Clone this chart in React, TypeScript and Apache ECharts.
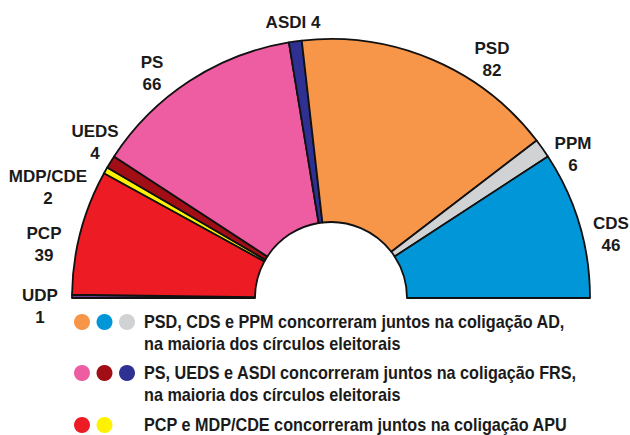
import React, { useEffect, useRef } from "react";
import * as echarts from "echarts";

const parties = ["UDP", "PCP", "MDP/CDE", "UEDS", "PS", "ASDI", "PSD", "PPM", "CDS"];
const seats = [1, 39, 2, 4, 66, 4, 82, 6, 46];
const colors = ["#6B4091", "#ED1C24", "#FFF200", "#A10E16", "#EE5DA1", "#2E3192", "#F79548", "#D1D2D4", "#0096D8"];

const legendGroups = [
  { parties: ["PSD", "CDS", "PPM"], lines: ["PSD, CDS e PPM concorreram juntos na coligação AD,", "na maioria dos círculos eleitorais"] },
  { parties: ["PS", "UEDS", "ASDI"], lines: ["PS, UEDS e ASDI concorreram juntos na coligação FRS,", "na maioria dos círculos eleitorais"] },
  { parties: ["PCP", "MDP/CDE"], lines: ["PCP e MDP/CDE concorreram juntos na coligação APU"] },
];

// label centres (layout only)
const labelPos: Record<string, [number, number]> = {
  UDP: [40, 306],
  PCP: [44, 244],
  "MDP/CDE": [48, 187],
  UEDS: [95, 142],
  PS: [152, 73],
  ASDI: [293, 22],
  PSD: [492, 59],
  PPM: [573, 154],
  CDS: [611, 234],
};

const FONT = '"Liberation Sans Narrow", "Arial Narrow", "Liberation Sans", sans-serif';

export default function App() {
  const ref = useRef<HTMLDivElement>(null);
  useEffect(() => {
    document.body.style.margin = "0";
    const chart = echarts.init(ref.current!, null, { renderer: "svg" });
    const total = seats.reduce((a, b) => a + b, 0);
    const data: any[] = parties.map((p, i) => ({
      name: p,
      value: seats[i],
      itemStyle: { color: colors[i] },
    }));
    data.push({
      name: "__hidden",
      value: total,
      itemStyle: { color: "rgba(0,0,0,0)", borderWidth: 0 },
      label: { show: false },
      labelLine: { show: false },
      emphasis: { disabled: true },
      tooltip: { show: false },
    });

    const graphic: any[] = [];
    const rowY = [322, 373, 425];
    legendGroups.forEach((g, gi) => {
      g.parties.forEach((p, pi) => {
        graphic.push({
          type: "circle",
          shape: { cx: 82 + pi * 22.5, cy: rowY[gi], r: 8 },
          style: { fill: colors[parties.indexOf(p)] },
        });
      });
      g.lines.forEach((line, li) => {
        graphic.push({
          type: "text",
          x: 144,
          y: rowY[gi] + li * 22,
          scaleX: 0.9,
          style: {
            text: line,
            font: `bold 18px ${FONT}`,
            fill: "#1a1a1a",
            textAlign: "left",
            textVerticalAlign: "middle",
          },
        });
      });
    });

    chart.setOption({
      animation: false,
      graphic,
      series: [
        {
          type: "pie",
          center: [331, 298],
          radius: [76, 259],
          startAngle: 180,
          clockwise: true,
          avoidLabelOverlap: false,
          silent: true,
          itemStyle: { borderColor: "#111", borderWidth: 1.8 },
          label: {
            show: true,
            position: "outside",
            formatter: (p: any) => (p.name === "ASDI" ? `${p.name} ${p.value}` : `${p.name}\n${p.value}`),
            fontFamily: FONT,
            fontWeight: "bold",
            fontSize: 17,
            lineHeight: 22,
            color: "#1a1a1a",
            align: "center",
          },
          labelLine: { show: false },
          labelLayout: (params: any) => {
            const name = parties[params.dataIndex];
            const pos = name ? labelPos[name] : null;
            if (!pos) return {};
            return { x: pos[0], y: pos[1], align: "center", verticalAlign: "middle" };
          },
          data,
        },
      ],
    });
    return () => chart.dispose();
  }, []);
  return <div ref={ref} style={{ width: 630, height: 435 }} />;
}
